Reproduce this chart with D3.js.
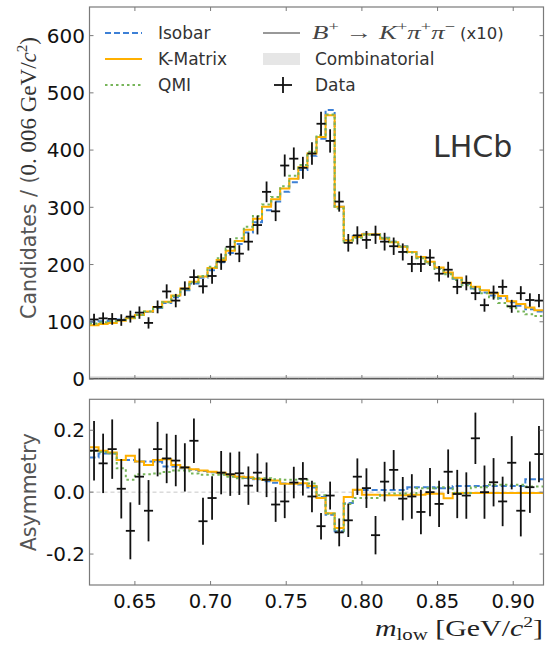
<!DOCTYPE html>
<html><head><meta charset="utf-8">
<script src="https://cdn.jsdelivr.net/npm/d3@7"></script>
<style>
body{margin:0;background:#fff;}
svg{display:block;font-family:"DejaVu Sans",sans-serif;}
</style></head>
<body><svg id="c" width="545" height="646"></svg>
<script>
const binCenters=[0.623,0.629,0.635,0.641,0.647,0.653,0.659,0.665,0.671,0.677,0.683,0.689,0.695,0.701,0.707,0.713,0.719,0.725,0.731,0.737,0.743,0.749,0.755,0.761,0.767,0.773,0.779,0.785,0.791,0.797,0.803,0.809,0.815,0.821,0.827,0.833,0.839,0.845,0.851,0.857,0.863,0.869,0.875,0.881,0.887,0.893,0.899,0.905,0.911,0.917];
const binWidth=0.006;
const dataY=[104,106,105,103,109,116,98,126,153,137,158,178,162,180,205,231,219,240,269,327,293,373,385,369,394,446,416,310,238,251,243,252,240,232,222,201,201,212,184,191,161,168,150,129,151,161,127,150,138,137];
const dataErr=[10.2,10.3,10.2,10.1,10.4,10.8,9.9,11.2,12.4,11.7,12.6,13.3,12.7,13.4,14.3,15.2,14.8,15.5,16.4,18.1,17.1,19.3,19.6,19.2,19.8,21.1,20.4,17.6,15.4,15.8,15.6,15.9,15.5,15.2,14.9,14.2,14.2,14.6,13.6,13.8,12.7,13.0,12.2,11.4,12.3,12.7,11.3,12.2,11.7,11.7];
const isobarY=[100,101,102,104,107,112,117,124,133,143,155,167,177,190,204,220,236,256,274,295,310,327,344,365,390,420,470,301,243,250,254,253,247,240,232,222,213,204,194,185,175,166,158,151,146,141,134,128,122,118];
const kmatrixY=[94,96,98,102,106,112,118,126,135,146,158,170,179,194,208,224,241,261,280,301,314,333,350,370,394,423,461,301,242,248,253,253,245,239,231,222,213,205,195,186,177,168,161,155,150,145,136,131,125,120];
const qmiY=[97,99,101,103,107,112,118,125,134,145,157,169,180,196,211,228,246,266,285,305,318,337,355,374,397,426,462,298,240,247,252,252,246,240,231,221,211,202,192,183,173,164,157,150,143,133,124,118,113,110];
const combY=[5,5,5,5,5,5,5,5,5,5,5,5,5,5,5,5,5,5,5,5,5,5,5,5,5,5,5,5,5,5,5,5,5,5,5,5,5,5,5,5,5,5,5,5,5,5,5,5,5,5];
const peakingY=[1,1,1,1,1,1,1,1,1,1,1,1,1,1,1,1,1,1,1,1,1,1,1,1,1,1,1,1,1,1,1,1,1,1,1,1,1,1,1,1,1,1,1,1,1,1,1,1,1,1];
const asymY=[0.134,0.093,0.139,0.011,-0.125,0.050,-0.060,0.139,0.109,0.102,0.080,0.166,-0.094,-0.019,0.063,0.058,0.061,0.021,0.063,0.040,-0.040,-0.030,0.031,0.043,-0.014,-0.110,-0.011,-0.130,-0.091,0.050,0.013,-0.139,0.034,0.072,-0.021,-0.014,-0.064,0.000,-0.038,0.066,-0.006,-0.011,0.174,0.000,0.032,-0.030,0.095,-0.060,0.016,0.123];
const asymErr=[0.096,0.096,0.096,0.096,0.092,0.091,0.099,0.088,0.080,0.083,0.078,0.072,0.076,0.070,0.070,0.070,0.070,0.062,0.062,0.056,0.056,0.054,0.051,0.054,0.051,0.043,0.045,0.045,0.054,0.059,0.064,0.062,0.064,0.064,0.070,0.072,0.072,0.078,0.075,0.072,0.078,0.075,0.083,0.086,0.078,0.080,0.086,0.083,0.083,0.091];
const asymIsobar=[0.112,0.125,0.125,0.104,0.104,0.099,0.099,0.099,0.083,0.083,0.077,0.072,0.068,0.064,0.060,0.055,0.050,0.046,0.042,0.035,0.030,0.028,0.027,0.025,0.015,-0.016,-0.073,-0.126,-0.035,0.007,0.007,0.007,0.007,0.007,0.007,0.016,0.016,0.016,0.013,0.013,0.020,0.020,0.020,0.020,0.020,0.020,0.020,0.020,0.042,0.042];
const asymKmatrix=[0.145,0.134,0.128,0.104,0.118,0.099,0.088,0.104,0.106,0.088,0.080,0.074,0.070,0.066,0.063,0.056,0.050,0.048,0.043,0.040,0.038,0.027,0.027,0.029,0.020,-0.019,-0.068,-0.116,-0.016,0.008,-0.008,-0.008,-0.010,-0.010,-0.010,-0.008,-0.008,-0.005,-0.005,-0.020,-0.003,-0.003,-0.003,-0.003,-0.003,-0.003,-0.003,-0.003,-0.003,-0.003];
const asymQmi=[0.134,0.130,0.125,0.077,0.040,0.058,0.058,0.060,0.065,0.070,0.070,0.060,0.056,0.056,0.056,0.050,0.045,0.045,0.045,0.045,0.042,0.040,0.040,0.040,0.028,-0.010,-0.070,-0.125,-0.038,-0.019,-0.019,-0.019,-0.009,-0.004,-0.004,-0.004,0.013,0.013,0.016,0.016,-0.003,-0.003,0.016,0.016,0.024,0.024,0.024,0.024,0.018,0.018];
const xTicks=[0.65,0.70,0.75,0.80,0.85,0.90];
const xTickLabels=["0.65","0.70","0.75","0.80","0.85","0.90"];
const yTopTicks=[0,100,200,300,400,500,600];
const yBotTicks=[-0.2,0.0,0.2];
const yBotTickLabels=["-0.2","0.0","0.2"];

const svg=d3.select("#c");
const L=89.5,R=543.5;
const x=d3.scaleLinear().domain([0.62,0.92]).range([L,R]);
const yT=d3.scaleLinear().domain([0,650]).range([379,7]);
const yB=d3.scaleLinear().domain([-0.3,0.3]).range([585,399.3]);
const C={blue:"#3d80d6",orange:"#ffb000",green:"#77b55a"};
const frameCol="#7a7a7a";
const serif='"Liberation Serif","DejaVu Serif",serif';

function stepPts(vals){
  const p=binCenters.map((c,i)=>[c-binWidth/2,vals[i]]);
  p.push([binCenters[binCenters.length-1]+binWidth/2,vals[vals.length-1]]);
  return p;
}
function drawStep(g,ys,vals,col,dash,w){
  const line=d3.line().x(d=>x(d[0])).y(d=>ys(d[1])).curve(d3.curveStepAfter);
  g.append("path").attr("d",line(stepPts(vals))).attr("fill","none")
   .attr("stroke",col).attr("stroke-width",w).attr("stroke-dasharray",dash);
}
function frame(ys,yticks,ylabels){
  const g=svg.append("g");
  const [y0,y1]=ys.range();
  g.append("rect").attr("x",L).attr("y",y1).attr("width",R-L).attr("height",y0-y1)
   .attr("fill","none").attr("stroke",frameCol).attr("stroke-width",1.2);
  xTicks.forEach(t=>{
    g.append("line").attr("x1",x(t)).attr("x2",x(t)).attr("y1",y0).attr("y2",y0-4).attr("stroke",frameCol);
    g.append("line").attr("x1",x(t)).attr("x2",x(t)).attr("y1",y1).attr("y2",y1+4).attr("stroke",frameCol);
  });
  yticks.forEach((t,i)=>{
    g.append("line").attr("x1",L).attr("x2",L+4).attr("y1",ys(t)).attr("y2",ys(t)).attr("stroke",frameCol);
    g.append("line").attr("x1",R).attr("x2",R-4).attr("y1",ys(t)).attr("y2",ys(t)).attr("stroke",frameCol);
    g.append("text").attr("x",85).attr("y",ys(t)).attr("dy","0.36em").attr("text-anchor","end")
     .attr("font-size",20).attr("fill","#111").text(ylabels[i]);
  });
}
function drawData(ys,vals,errs){
  const g=svg.append("g").attr("stroke","#111").attr("stroke-width",1.8);
  binCenters.forEach((c,i)=>{
    g.append("line").attr("x1",x(c-binWidth/2)).attr("x2",x(c+binWidth/2)).attr("y1",ys(vals[i])).attr("y2",ys(vals[i]));
    g.append("line").attr("x1",x(c)).attr("x2",x(c)).attr("y1",ys(vals[i]-errs[i])).attr("y2",ys(vals[i]+errs[i]));
  });
}

// ---- top panel
const gTop=svg.append("g");
const area=d3.area().x(d=>x(d[0])).y0(yT(0)).y1(d=>yT(d[1])).curve(d3.curveStepAfter);
gTop.append("path").attr("d",area(stepPts(combY))).attr("fill","#dcdcdc");
drawStep(gTop,yT,peakingY,"#222","",1);
drawStep(gTop,yT,isobarY,C.blue,"6,3",2);
drawStep(gTop,yT,kmatrixY,C.orange,"",2);
drawStep(gTop,yT,qmiY,C.green,"2.5,3",2);
drawData(yT,dataY,dataErr);
frame(yT,yTopTicks,yTopTicks.map(String));

// ---- bottom panel
const gBot=svg.append("g");
gBot.append("line").attr("x1",L).attr("x2",R).attr("y1",yB(0)).attr("y2",yB(0))
  .attr("stroke","#c8c8c8").attr("stroke-dasharray","4,3").attr("stroke-width",1);
drawStep(gBot,yB,asymIsobar,C.blue,"6,3",2);
drawStep(gBot,yB,asymKmatrix,C.orange,"",2);
drawStep(gBot,yB,asymQmi,C.green,"2.5,3",2);
drawData(yB,asymY,asymErr);
frame(yB,yBotTicks,yBotTickLabels);

// x tick labels
xTicks.forEach((t,i)=>{
  svg.append("text").attr("x",x(t)).attr("y",608).attr("text-anchor","middle")
   .attr("font-size",19.5).attr("fill","#111").text(xTickLabels[i]);
});

// x axis title
const xl=svg.append("text").attr("x",375).attr("y",636)
  .attr("font-family",serif).attr("font-size",23).attr("fill","#222")
  .attr("textLength",168).attr("lengthAdjust","spacingAndGlyphs");
xl.append("tspan").attr("font-style","italic").text("m");
xl.append("tspan").attr("font-size",16).attr("dy",4).text("low");
xl.append("tspan").attr("dy",-4).text(" [GeV/");
xl.append("tspan").attr("font-style","italic").text("c");
xl.append("tspan").attr("font-size",15).attr("dy",-9).text("2");
xl.append("tspan").attr("dy",9).text("]");

// y axis titles
const yl=svg.append("text").attr("transform","translate(36,178) rotate(-90)").attr("text-anchor","middle")
  .attr("font-size",20.5).attr("fill","#555");
yl.append("tspan").text("Candidates / (");
yl.append("tspan").attr("font-family",serif).attr("font-size",23).attr("fill","#333").text("0. 006 GeV/");
yl.append("tspan").attr("font-family",serif).attr("font-size",23).attr("font-style","italic").attr("fill","#333").text("c");
yl.append("tspan").attr("font-family",serif).attr("font-size",15).attr("dy",-9).attr("fill","#333").text("2");
yl.append("tspan").attr("font-family",serif).attr("font-size",23).attr("dy",9).attr("fill","#333").text(")");

svg.append("text").attr("transform",`translate(36,${(585+399.3)/2}) rotate(-90)`).attr("text-anchor","middle")
  .attr("font-size",20.5).attr("fill","#555").text("Asymmetry");

// LHCb
svg.append("text").attr("x",433).attr("y",157).attr("font-size",30).attr("fill","#333").text("LHCb");

// legend
const leg=svg.append("g");
const rows=[33,59,85];
const legItems=[["Isobar",C.blue,"6,3"],["K-Matrix",C.orange,""],["QMI",C.green,"2.5,3"]];
legItems.forEach((d,i)=>{
  leg.append("line").attr("x1",105).attr("x2",142).attr("y1",rows[i]).attr("y2",rows[i])
    .attr("stroke",d[1]).attr("stroke-width",2).attr("stroke-dasharray",d[2]);
  leg.append("text").attr("x",158).attr("y",rows[i]).attr("dy","0.36em").attr("font-size",17).attr("fill","#333").text(d[0]);
});
leg.append("line").attr("x1",263).attr("x2",300).attr("y1",rows[0]).attr("y2",rows[0]).attr("stroke","#333").attr("stroke-width",1);
const bl=leg.append("text").attr("x",312).attr("y",rows[0]+6).attr("font-family",serif).attr("font-size",19).attr("fill","#444")
  .attr("textLength",143).attr("lengthAdjust","spacingAndGlyphs");
bl.append("tspan").attr("font-style","italic").text("B");
bl.append("tspan").attr("font-size",13).attr("dy",-8).text("+");
bl.append("tspan").attr("dy",8).text(" → ");
bl.append("tspan").attr("font-style","italic").text("K");
bl.append("tspan").attr("font-size",13).attr("dy",-8).text("+");
bl.append("tspan").attr("font-style","italic").attr("dy",8).text("π");
bl.append("tspan").attr("font-size",13).attr("dy",-8).text("+");
bl.append("tspan").attr("font-style","italic").attr("dy",8).text("π");
bl.append("tspan").attr("font-size",13).attr("dy",-8).text("−");
leg.append("text").attr("x",460).attr("y",rows[0]).attr("dy","0.36em").attr("font-size",16.5).attr("fill","#333").text("(x10)");
leg.append("rect").attr("x",263).attr("y",53).attr("width",37).attr("height",12).attr("fill","#e6e6e6");
leg.append("text").attr("x",315).attr("y",rows[1]).attr("dy","0.36em").attr("font-size",17).attr("fill","#333").text("Combinatorial");
leg.append("line").attr("x1",274).attr("x2",292).attr("y1",rows[2]).attr("y2",rows[2]).attr("stroke","#111").attr("stroke-width",1.8);
leg.append("line").attr("x1",283).attr("x2",283).attr("y1",rows[2]-8).attr("y2",rows[2]+8).attr("stroke","#111").attr("stroke-width",1.8);
leg.append("text").attr("x",315).attr("y",rows[2]).attr("dy","0.36em").attr("font-size",17).attr("fill","#333").text("Data");
</script></body></html>
